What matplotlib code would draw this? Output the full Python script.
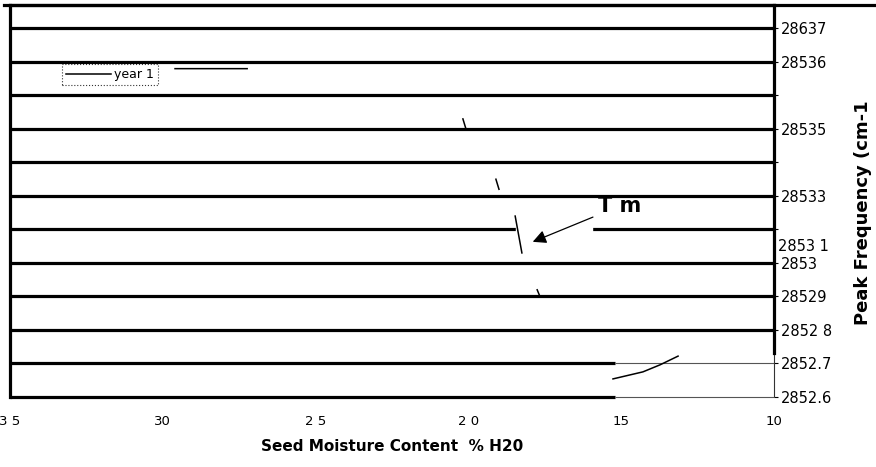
import numpy as np
import matplotlib
matplotlib.use("Agg")
import matplotlib.pyplot as plt
from matplotlib.lines import Line2D

# year 1 trace (moisture %, peak frequency cm-1); NaN separates the visible pieces
moisture_year1 = [29.6, 27.24, np.nan, 20.18, 20.08, np.nan, 19.10, 19.00, np.nan,
                  18.47, 18.25, np.nan, 17.75, 17.66, np.nan, 15.27, 14.29, 13.73, 13.14]
freq_year1 = [2853.58, 2853.58, np.nan, 2853.43, 2853.40, np.nan, 2853.25, 2853.22, np.nan,
              2853.14, 2853.03, np.nan, 2852.92, 2852.90, np.nan, 2852.654, 2852.675, 2852.696, 2852.722]

y_ticks = [2852.6, 2852.7, 2852.8, 2852.9, 2853.0, 2853.1, 2853.2, 2853.3, 2853.4, 2853.5, 2853.6, 2853.7]
y_tick_labels = ['2852.6', '2852.7', '2852 8', '28529', '2853', '', '28533', '', '28535', '', '28536', '28637']
x_ticks = [35, 30, 25, 20, 15, 10]
x_tick_labels = ['3 5', '30', '2 5', '2 0', '15', '10']

tm_tip = (17.98, 2853.06)
tm_text = (15.75, 2853.17)

narrow = ['Liberation Sans Narrow', 'DejaVu Sans']

fig = plt.figure(figsize=(8.76, 4.67), dpi=100)
ax = fig.add_axes([0.0114, 0.1499, 0.8722, 0.8394])
ax.set_xlim(35, 10)
ax.set_ylim(2852.6, 2853.77)

lw = 2.3
# heavy gridlines, the lowest two go thin past 15 %
for v in y_ticks[2:]:
    ax.axhline(v, color='black', lw=lw, zorder=1)
for v in y_ticks[:2]:
    ax.hlines(v, 35, 15.2, color='black', lw=lw, zorder=1, clip_on=False)
    ax.hlines(v, 15.2, 10, color='#555555', lw=0.8, zorder=1, clip_on=False)

for s in ['top', 'left', 'right']:
    ax.spines[s].set_linewidth(lw)
ax.spines['bottom'].set_visible(False)
ax.spines['right'].set_bounds(2852.73, 2853.77)
ax.vlines(10, 2852.6, 2852.73, color='#333333', lw=0.8, clip_on=False)

ax.plot(moisture_year1, freq_year1, color='black', lw=1.1, label='year 1', zorder=3)

# white box behind the Tm label
ax.fill_between([18.45, 15.95], 2853.04, 2853.15, color='white', zorder=2)
ax.annotate('T m', xy=tm_tip, xytext=tm_text, fontsize=15, fontweight='bold',
            family=narrow, ha='left', va='center', zorder=4,
            arrowprops=dict(arrowstyle='-|>', color='black', lw=0.9, mutation_scale=20))

ax.yaxis.tick_right()
ax.set_yticks(y_ticks)
ax.set_yticklabels(y_tick_labels, fontsize=10.5, family=narrow)
ax.tick_params(axis='y', length=3, width=0.8, pad=2)
ax.text(1.005, 2853.05, '2853 1', transform=ax.get_yaxis_transform(), fontsize=10.5,
        family=narrow, va='center')

ax.set_xticks(x_ticks)
ax.set_xticklabels(x_tick_labels, fontsize=9.5, family=narrow)
ax.tick_params(axis='x', length=0, pad=13)

ax.set_xlabel('Seed Moisture Content  % H20', fontsize=11, fontweight='bold', labelpad=8)
ax.set_ylabel('Peak Frequency (cm-1', fontsize=13, fontweight='bold', rotation=90)
ax.yaxis.set_label_position('right')
ax.yaxis.set_label_coords(1.105, 0.47)

leg = ax.legend(loc='upper left', bbox_to_anchor=(0.068, 0.849), fontsize=9,
                frameon=True, fancybox=False, handlelength=3.6, borderpad=0.3,
                borderaxespad=0, handletextpad=0.3)
leg.get_frame().set_edgecolor('black')
leg.get_frame().set_linewidth(0.8)
leg.get_frame().set_linestyle(':')

# top rule runs out to the right edge
fig.add_artist(Line2D([0.005, 1.0], [0.9893, 0.9893], color='black', lw=lw))

fig.savefig('out.png', dpi=100)
